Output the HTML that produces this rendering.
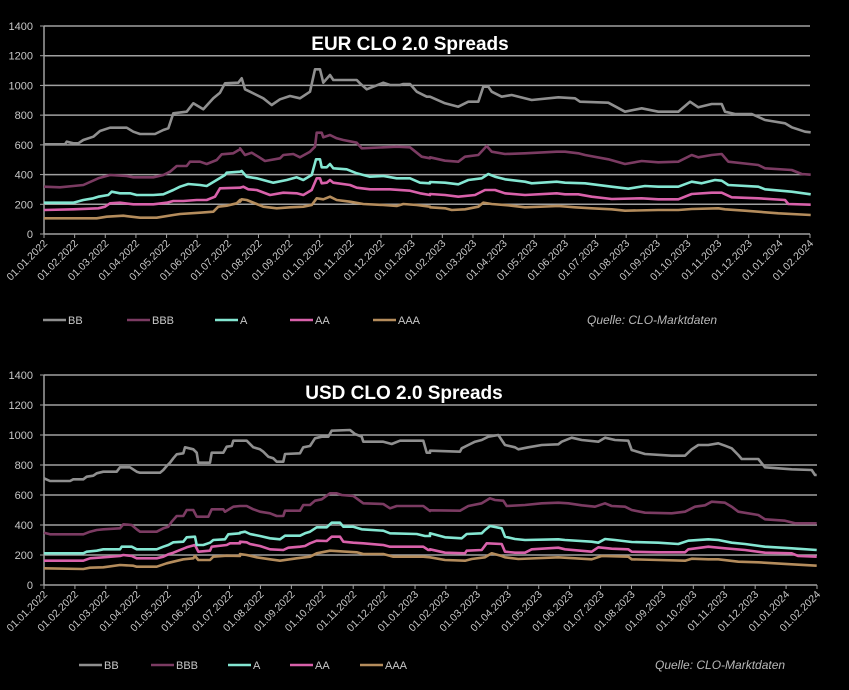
<!DOCTYPE html>
<html><head><meta charset="utf-8"><style>
html,body{margin:0;padding:0;background:#000;}
svg{display:block;font-family:"Liberation Sans",sans-serif;}
</style></head><body>
<svg id="s" width="849" height="690" viewBox="0 0 849 690" xmlns="http://www.w3.org/2000/svg">
<rect width="849" height="690" fill="#000"/>
</svg>
<script>
var NS="http://www.w3.org/2000/svg",S=document.getElementById('s');
function el(t,a,txt){var e=document.createElementNS(NS,t);for(var k in a)e.setAttribute(k,a[k]);if(txt!=null)e.textContent=txt;S.appendChild(e);return e;}
var months=[];for(var i=0;i<26;i++){var y=2022+Math.floor(i/12),m=i%12+1;months.push('01.'+(m<10?'0':'')+m+'.'+y);}
var cols={BB:'#8f8f8f',BBB:'#7b3b62',A:'#84e6d2',AA:'#d861aa',AAA:'#b48c5c'};
function frame(o,pts,first){var r=[];pts.forEach(function(p){if(!first&&p[0]<15)return;r.push([o[0]+p[0]/3,o[1]+p[1]/3]);});return r;}
function chart(c){
 var x0=c.x0,x1=c.x1,yb=c.yb,yt=c.yt,dx=(x1-x0)/25;
 function Y(v){return yb-(yb-yt)*v/1400;}
 for(var v=200;v<=1400;v+=200)el('line',{x1:x0,x2:x1,y1:Y(v),y2:Y(v),stroke:'#a0a0a0','stroke-width':1.5});
 el('line',{x1:x0,x2:x0,y1:yt,y2:yb,stroke:'#a0a0a0','stroke-width':1.5});
 el('line',{x1:x0,x2:x1,y1:yb,y2:yb,stroke:'#a0a0a0','stroke-width':1.5});
 for(var v=0;v<=1400;v+=200){el('line',{x1:x0-4,x2:x0,y1:Y(v),y2:Y(v),stroke:'#a0a0a0'});el('text',{x:x0-11,y:Y(v)+4,'text-anchor':'end','font-size':11,fill:'#c8c8c8'},v);}
 for(var i=0;i<26;i++){var x=x0+i*dx;el('line',{x1:x,x2:x,y1:yb,y2:yb+4,stroke:'#a0a0a0'});
  el('text',{x:x+4,y:yb+10,'text-anchor':'end','font-size':10.5,fill:'#c8c8c8',transform:'rotate(-45 '+(x+4)+' '+(yb+10)+')'},months[i]);}
 el('text',{x:c.tx,y:c.ty,'text-anchor':'middle','font-size':19,'font-weight':'bold',fill:'#fff'},c.title);
 ['AAA','AA','A','BBB','BB'].forEach(function(k){var d=c.d[k];
  var p=frame(c.o[0],d[0],true).concat(frame(c.o[1],d[1],false)).concat(frame(c.o[2],d[2],false));
  p=p.filter(function(q,i){return i==0||q[0]>=p[i-1][0]-0.01;});
  el('polyline',{points:p.map(function(q){return q[0].toFixed(1)+','+q[1].toFixed(1);}).join(' '),fill:'none',stroke:cols[k],'stroke-width':2.6,'stroke-linejoin':'round'});});
 c.leg.forEach(function(l){el('line',{x1:l[1],x2:l[1]+23,y1:c.ly,y2:c.ly,stroke:cols[l[0]],'stroke-width':2.6});
  el('text',{x:l[1]+25,y:c.ly+4,'font-size':11,fill:'#c8c8c8'},l[0]);});
 el('text',{x:c.qx,y:c.ly+4,'font-size':12,'font-style':'italic',fill:'#b8b8b8'},'Quelle: CLO-Marktdaten');
}
chart({x0:44,x1:810,yb:234,yt:26,title:'EUR CLO 2.0 Spreads',tx:410,ty:50,ly:320,qx:587,
 o:[[40,60],[230,60],[425,0]],
 leg:[['BB',43],['BBB',127],['A',215],['AA',290],['AAA',373]],
 d:{BB:[[[12,253],[75,253],[80,245],[100,250],[115,250],[130,240],[160,230],[180,213],[210,203],[260,203],[280,215],[300,222],[345,222],[370,210],[385,205],[400,160],[440,155],[460,130],[490,148],[520,115],[540,98],[555,70],[595,68]],
  [[20,68],[35,55],[45,88],[60,95],[100,115],[125,135],[150,118],[180,108],[210,115],[240,95],[255,28],[270,28],[280,68],[300,45],[310,60],[380,60],[390,70],[410,88],[460,68],[480,75],[510,75],[520,72],[540,72],[560,95],[590,110]],
  [[15,290],[60,310],[100,320],[130,305],[160,305],[175,260],[190,260],[200,275],[230,290],[260,285],[320,300],[400,292],[450,295],[465,305],[550,308],[600,335],[650,325],[700,335],[760,335],[795,305],[820,322],[860,312],[890,312],[900,335],[930,342],[980,342],[1020,360],[1080,370],[1100,382],[1140,395],[1157,397]]],
 BBB:[[[12,380],[60,382],[100,378],[130,375],[175,355],[210,345],[260,348],[280,352],[340,352],[370,345],[390,335],[410,318],[440,318],[450,305],[480,305],[500,312],[530,300],[545,283],[580,280],[600,268]],
  [[0,280],[30,265],[45,285],[65,278],[85,290],[105,303],[150,295],[160,285],[190,282],[210,292],[240,275],[255,260],[260,218],[275,218],[280,232],[300,225],[320,235],[340,240],[380,248],[395,265],[500,260],[540,262],[575,290],[600,295]],
  [[15,472],[60,482],[100,485],[120,470],[160,465],[185,438],[200,455],[240,462],[300,460],[395,455],[420,455],[460,460],[480,465],[550,478],[600,492],[650,483],[700,487],[760,485],[800,465],[820,472],[860,465],[890,462],[910,485],[1000,495],[1020,505],[1100,510],[1130,522],[1157,524]]],
 A:[[[12,428],[100,428],[130,420],[160,415],[175,410],[205,405],[215,395],[240,400],[270,400],[290,405],[340,405],[370,403],[400,390],[420,380],[445,372],[480,375],[500,378],[530,360],[555,345],[560,338],[600,335]],
  [[0,338],[35,333],[50,350],[80,355],[130,368],[170,360],[200,352],[220,360],[245,345],[258,298],[270,298],[275,322],[290,322],[300,312],[310,325],[350,328],[380,340],[420,350],[460,348],[500,355],[540,355],[570,368],[600,370]],
  [[15,546],[60,548],[100,553],[130,540],[170,535],[190,522],[210,530],[240,538],[300,545],[320,550],[395,545],[420,548],[480,550],[560,560],[610,566],[660,558],[700,560],[760,560],[800,545],[830,550],[870,540],[890,542],[910,555],[1000,560],[1020,568],[1100,575],[1157,583]]],
 AA:[[[12,450],[100,448],[175,445],[195,440],[210,430],[240,428],[280,433],[340,433],[380,428],[400,423],[430,423],[470,420],[500,420],[525,410],[540,385],[600,383]],
  [[0,383],[40,380],[55,388],[80,390],[120,405],[160,398],[200,400],[220,405],[245,390],[260,355],[270,355],[275,370],[290,368],[300,360],[310,368],[360,375],[380,383],[420,388],[480,388],[540,392],[570,400],[600,405]],
  [[15,582],[60,585],[100,590],[150,585],[180,570],[210,570],[240,580],[300,585],[395,580],[420,583],[460,583],[500,590],[560,597],[650,595],[700,598],[760,598],[800,582],[860,578],[890,578],[920,592],[1000,595],[1080,600],[1090,612],[1157,614]]],
 AAA:[[[12,475],[170,475],[200,470],[250,467],[300,473],[350,473],[400,465],[420,462],[480,458],[520,455],[535,440],[560,437],[590,430],[600,420]],
  [[0,435],[30,425],[35,418],[50,420],[80,432],[100,440],[140,445],[180,442],[220,440],[245,435],[260,415],[280,418],[300,410],[320,420],[360,425],[400,432],[460,435],[500,438],[520,432],[560,435],[600,440]],
  [[15,622],[60,625],[80,630],[120,628],[160,620],[175,608],[200,612],[250,616],[300,622],[400,618],[450,622],[500,625],[560,628],[600,632],[700,630],[760,630],[800,627],[880,625],[900,628],[960,632],[1060,640],[1157,645]]]}});
chart({x0:44,x1:817,yb:585,yt:375,title:'USD CLO 2.0 Spreads',tx:404,ty:399,ly:665,qx:655,
 o:[[40,410],[230,410],[425,360]],
 leg:[['BB',79],['BBB',151],['A',228],['AA',290],['AAA',360]],
 d:{BB:[[[12,205],[30,213],[90,213],[100,208],[130,208],[140,200],[160,197],[170,190],[190,185],[230,185],[240,172],[270,172],[290,185],[300,188],[360,188],[370,180],[380,168],[390,158],[400,145],[410,133],[430,130],[435,112],[460,118],[470,128],[475,158],[510,158],[515,128],[550,128],[560,110],[575,108],[580,92],[600,92]],
  [[0,110],[15,92],[50,92],[70,112],[90,118],[100,125],[115,140],[130,145],[140,155],[160,155],[165,132],[210,130],[220,112],[240,108],[255,85],[275,80],[295,80],[305,62],[360,60],[375,72],[395,80],[400,95],[460,95],[485,102],[510,92],[580,92],[590,128],[600,128]],
  [[15,272],[105,275],[110,265],[130,255],[150,245],[170,240],[190,230],[220,225],[240,255],[270,262],[280,268],[310,262],[350,255],[400,253],[410,245],[440,233],[470,240],[520,245],[540,233],[570,240],[610,242],[620,270],[660,282],[740,287],[780,287],[800,268],[820,255],[850,255],[880,250],[900,257],[920,265],[940,285],[950,297],[1000,297],[1020,322],[1100,328],[1160,330],[1170,345],[1175,345]]],
 BBB:[[[12,368],[30,373],[130,373],[150,365],[170,360],[190,358],[240,355],[250,343],[275,345],[290,358],[300,365],[350,365],[370,355],[385,350],[395,335],[410,318],[430,318],[440,300],[460,300],[470,320],[505,320],[515,298],[550,298],[555,305],[580,290],[600,288]],
  [[0,295],[20,288],[50,288],[70,298],[90,305],[120,310],[140,318],[160,318],[165,302],[210,302],[220,285],[240,285],[255,272],[275,268],[300,250],[320,250],[335,255],[370,258],[400,280],[460,282],[480,295],[500,288],[580,288],[600,303]],
  [[15,451],[105,452],[130,438],[170,430],[195,415],[210,420],[235,422],[245,438],[300,435],[350,430],[400,428],[430,430],[470,436],[510,440],[540,430],[560,438],[600,440],[620,450],[660,458],[740,460],[780,455],[810,440],[840,436],[860,425],[900,428],[920,440],[940,455],[1000,465],[1020,478],[1080,482],[1110,490],[1175,490]]],
 A:[[[12,430],[130,430],[140,425],[170,422],[190,418],[240,418],[245,410],[275,410],[290,418],[350,418],[370,410],[385,405],[400,397],[430,395],[440,382],[465,380],[470,405],[490,405],[510,398],[520,390],[555,388],[565,373],[600,370]],
  [[0,373],[30,368],[45,365],[60,372],[90,378],[120,385],[150,388],[165,377],[210,377],[225,370],[240,365],[260,352],[290,352],[305,338],[330,338],[340,350],[370,350],[395,358],[460,362],[480,370],[560,372],[585,378],[600,378]],
  [[15,520],[60,532],[110,535],[125,522],[170,520],[180,510],[195,498],[230,505],[240,530],[270,537],[300,540],[400,538],[420,540],[500,545],[520,548],[540,537],[570,540],[620,546],[700,548],[760,552],[790,542],[850,538],[880,540],[920,548],[960,552],[1020,560],[1100,565],[1175,570]]],
 AA:[[[12,452],[130,452],[150,445],[190,442],[240,438],[250,435],[275,438],[290,445],[350,445],[370,440],[385,433],[400,428],[440,412],[465,405],[475,425],[510,422],[515,410],[560,405],[570,400],[600,400]],
  [[0,400],[30,395],[50,397],[60,402],[90,408],[120,418],[160,420],[175,413],[210,410],[225,408],[240,400],[260,392],[290,393],[305,380],[330,380],[340,395],[370,398],[400,400],[460,405],[480,410],[580,410],[595,420],[600,420]],
  [[15,568],[60,578],[120,580],[125,572],[170,570],[185,550],[230,552],[240,575],[270,578],[300,578],[320,568],[400,563],[420,568],[500,575],[520,562],[560,566],[610,568],[620,575],[700,577],[780,577],[790,568],[850,560],[900,565],[960,570],[1020,578],[1100,580],[1120,588],[1175,590]]],
 AAA:[[[12,475],[130,477],[150,473],[190,472],[240,465],[280,467],[290,470],[350,470],[380,460],[400,455],[430,448],[460,445],[465,438],[475,450],[510,450],[520,440],[560,437],[600,438]],
  [[0,438],[30,432],[50,435],[80,442],[120,448],[150,452],[200,445],[240,440],[260,430],[300,422],[380,427],[400,432],[460,432],[490,440],[580,440],[600,442]],
  [[15,592],[60,600],[120,602],[140,597],[180,592],[200,580],[230,588],[240,592],[280,597],[400,592],[500,598],[530,588],[610,590],[620,598],[700,600],[780,602],[800,596],[850,598],[880,598],[940,605],[1000,607],[1100,613],[1175,617]]]}});
</script>
</body></html>
